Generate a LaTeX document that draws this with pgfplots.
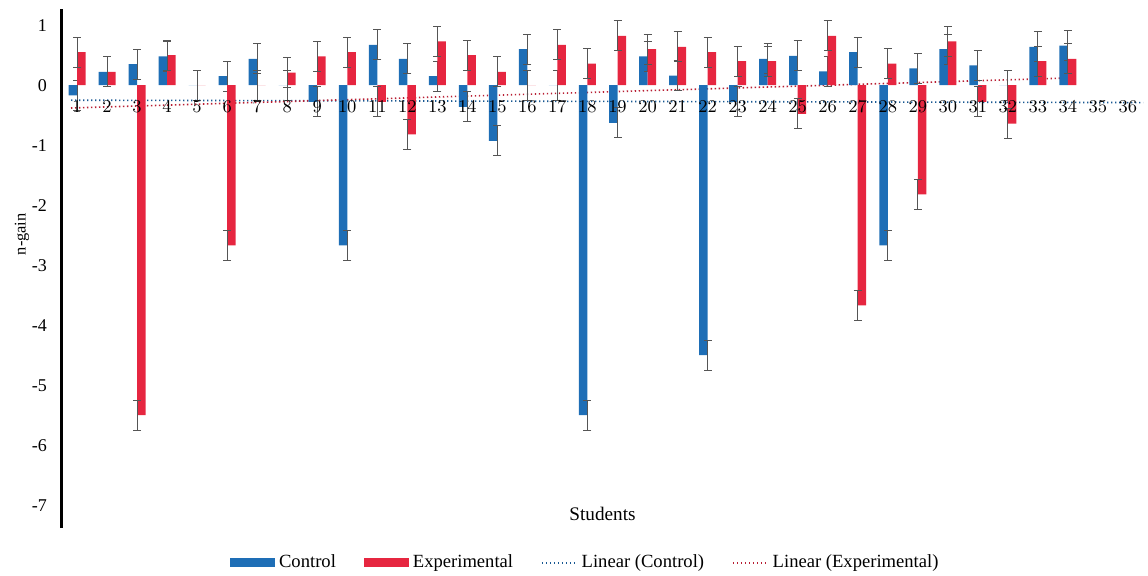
\documentclass[border=0pt]{standalone}
\usepackage{pgfplots}
\usepackage{pgfplotstable}
\pgfplotsset{compat=1.18}
\usepackage{fontspec}
\setmainfont{Liberation Serif}
\definecolor{cblue}{RGB}{30,110,182}
\definecolor{cred}{RGB}{230,38,64}
\definecolor{errc}{RGB}{85,85,85}

\pgfplotstableread{
x y
1 -0.17
2 0.22
3 0.35
4 0.48
5 0
6 0.15
7 0.44
8 0
9 -0.28
10 -2.67
11 0.67
12 0.44
13 0.15
14 -0.36
15 -0.93
16 0.60
17 0
18 -5.5
19 -0.63
20 0.48
21 0.16
22 -4.5
23 -0.28
24 0.44
25 0.49
26 0.23
27 0.55
28 -2.67
29 0.28
30 0.60
31 0.33
32 0
33 0.64
34 0.66
}\control

\pgfplotstableread{
x y
1 0.55
2 0.22
3 -5.5
4 0.50
5 0
6 -2.67
7 0
8 0.21
9 0.48
10 0.55
11 -0.28
12 -0.82
13 0.73
14 0.50
15 0.22
16 0
17 0.67
18 0.36
19 0.82
20 0.60
21 0.64
22 0.55
23 0.40
24 0.40
25 -0.48
26 0.82
27 -3.67
28 0.36
29 -1.82
30 0.73
31 -0.28
32 -0.64
33 0.40
34 0.44
}\experimental

\begin{document}
\begin{tikzpicture}
\begin{axis}[
  width=540.5pt, height=259.5pt, scale only axis,
  xmin=0.5, xmax=36.5, ymin=-7.38, ymax=1.27,
  axis on top,
  axis x line*=middle, axis y line*=left,
  x axis line style={draw=none},
  y axis line style={line width=1.5pt, black},
  xtick={1,...,36}, ytick={-7,-6,-5,-4,-3,-2,-1,0,1},
  yticklabels={-7,-6,-5,-4,-3,-2,-1,0,1},
  major tick length=0pt,
  yticklabel style={font=\fontsize{9}{10}\selectfont, xshift=-4pt},
  xticklabel style={font=\fontsize{9.5}{10}\selectfont, yshift=-4.5pt},
  xlabel={Students},
  xlabel style={at={(axis description cs:0.5,0)}, anchor=south, yshift=0pt, font=\fontsize{9.6}{10}\selectfont},
  ylabel={n-gain},
  ylabel style={at={(axis description cs:-0.037,0.566)}, anchor=center, rotate=0, font=\fontsize{8.2}{9}\selectfont},
  legend columns=4,
  legend style={draw=none, fill=none, at={(axis description cs:0.485,-0.0674)}, anchor=center,
    font=\fontsize{9.3}{10}\selectfont,
    /tikz/every even column/.append style={column sep=12pt}},
]
\coordinate (sw) at (rel axis cs:0,0);
\coordinate (ne) at (rel axis cs:1,1);
% trend lines first (behind the bars)
\addplot[sharp plot, no marks, forget plot, color=cblue!80!black, line width=0.8pt, dash pattern=on 0.7pt off 1.3pt]
  coordinates {(0.8,-0.25) (36.5,-0.29)};
\addplot[sharp plot, no marks, forget plot, color=cred!80!black, line width=0.8pt, dash pattern=on 0.7pt off 1.3pt]
  coordinates {(0.8,-0.38) (34,0.12)};
\addplot[ybar, bar width=4.25pt, bar shift=-2.125pt, fill=cblue, draw=none,
  error bars/.cd, y dir=both, y fixed=0.25,
  error bar style={errc, line width=0.5pt},
  error mark options={errc, line width=0.5pt, mark size=2pt, rotate=90},
  /pgfplots/legend image code/.code={\fill[cblue] (0pt,-2.25pt) rectangle (22.5pt,2.25pt);}]
  table[x=x,y=y] {\control};
\addlegendentry{Control}
\addplot[ybar, bar width=4.25pt, bar shift=2.125pt, fill=cred, draw=none,
  error bars/.cd, y dir=both, y fixed=0.25,
  error bar style={errc, line width=0.5pt},
  error mark options={errc, line width=0.5pt, mark size=2pt, rotate=90},
  /pgfplots/legend image code/.code={\fill[cred] (0pt,-2.25pt) rectangle (22.5pt,2.25pt);}]
  table[x=x,y=y] {\experimental};
\addlegendentry{Experimental}
\addlegendimage{legend image code/.code={\draw[cblue!80!black, line width=0.8pt, dash pattern=on 0.7pt off 1.3pt] (0pt,0pt) -- (17.5pt,0pt);}}
\addlegendentry{Linear (Control)}
\addlegendimage{legend image code/.code={\draw[cred!80!black, line width=0.8pt, dash pattern=on 0.7pt off 1.3pt] (0pt,0pt) -- (17.5pt,0pt);}}
\addlegendentry{Linear (Experimental)}
\end{axis}
\pgfresetboundingbox
\path[use as bounding box] ([xshift=-31pt,yshift=-23.5pt]sw) rectangle ([xshift=2.5pt,yshift=4.5pt]ne);
\end{tikzpicture}
\end{document}
